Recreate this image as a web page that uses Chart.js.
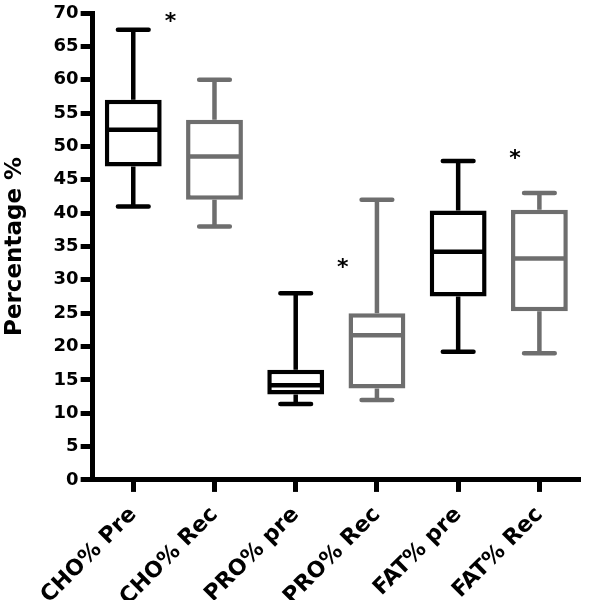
<!DOCTYPE html>
<html>
<head>
<meta charset="utf-8">
<script src="https://cdn.jsdelivr.net/npm/chart.js@4/dist/chart.umd.min.js"></script>
<style>
  body { margin: 0; background: #fff; }
</style>
</head>
<body>
<canvas id="boxChart" width="593" height="600"></canvas>
<script>
const labels = ['CHO% Pre', 'CHO% Rec', 'PRO% pre', 'PRO% Rec', 'FAT% pre', 'FAT% Rec'];
const mins    = [41.0, 38.0, 11.4, 12.0, 19.2, 19.0];
const q1s     = [47.0, 42.0, 12.8, 13.7, 27.5, 25.3];
const medians = [52.5, 48.5, 14.2, 21.7, 34.2, 33.2];
const q3s     = [57.0, 54.0, 16.5, 25.0, 40.4, 40.5];
const maxs    = [67.5, 60.0, 28.0, 42.0, 47.8, 43.0];
const colors  = ['#000000', '#6e6e6e', '#000000', '#6e6e6e', '#000000', '#6e6e6e'];
const yTicks  = [0, 5, 10, 15, 20, 25, 30, 35, 40, 45, 50, 55, 60, 65, 70];

// significance marks: sits between a category and the next one
const starAfter = [0, 2, 4];
const starShift = [0.46, 0.58, 0.70];
const starValue = [69.2, 32.4, 48.6];

const FONT = 'DejaVu Sans';
const LW = 4.5;

// whiskers (under the boxes), medians and stars (over them)
const boxWhiskers = {
  id: 'boxWhiskers',
  beforeDatasetsDraw(chart) {
    const ctx = chart.ctx;
    const y = chart.scales.y;
    const meta = chart.getDatasetMeta(0);
    ctx.save();
    ctx.lineWidth = LW;
    meta.data.forEach((bar, i) => {
      const cx = bar.x;
      const cap = bar.width * 0.27;
      ctx.strokeStyle = colors[i];
      ctx.lineCap = 'butt';
      ctx.beginPath();
      ctx.moveTo(cx, y.getPixelForValue(q3s[i]));
      ctx.lineTo(cx, y.getPixelForValue(maxs[i]));
      ctx.moveTo(cx, y.getPixelForValue(q1s[i]));
      ctx.lineTo(cx, y.getPixelForValue(mins[i]));
      ctx.stroke();
      ctx.lineCap = 'round';
      ctx.beginPath();
      ctx.moveTo(cx - cap, y.getPixelForValue(maxs[i]));
      ctx.lineTo(cx + cap, y.getPixelForValue(maxs[i]));
      ctx.moveTo(cx - cap, y.getPixelForValue(mins[i]));
      ctx.lineTo(cx + cap, y.getPixelForValue(mins[i]));
      ctx.stroke();
    });
    ctx.restore();
  },
  afterDatasetsDraw(chart) {
    const ctx = chart.ctx;
    const x = chart.scales.x;
    const y = chart.scales.y;
    const meta = chart.getDatasetMeta(0);
    ctx.save();
    ctx.lineWidth = LW;
    meta.data.forEach((bar, i) => {
      const py = y.getPixelForValue(medians[i]);
      ctx.strokeStyle = colors[i];
      ctx.beginPath();
      ctx.moveTo(bar.x - bar.width / 2 + 2, py);
      ctx.lineTo(bar.x + bar.width / 2 - 2, py);
      ctx.stroke();
    });
    ctx.fillStyle = '#000';
    ctx.font = 'bold 22px ' + FONT;
    ctx.textAlign = 'center';
    ctx.textBaseline = 'middle';
    starAfter.forEach((k, j) => {
      const x0 = x.getPixelForValue(k);
      const x1 = x.getPixelForValue(k + 1);
      ctx.fillText('*', x0 + (x1 - x0) * starShift[j], y.getPixelForValue(starValue[j]) + 4);
    });
    ctx.restore();
  }
};

new Chart(document.getElementById('boxChart'), {
  type: 'bar',
  data: {
    labels: labels,
    datasets: [{
      data: q1s.map((q, i) => [q, q3s[i]]),
      backgroundColor: '#ffffff',
      borderColor: colors,
      borderWidth: LW,
      borderSkipped: false,
      categoryPercentage: 1,
      barPercentage: 0.7
    }]
  },
  options: {
    responsive: false,
    animation: false,
    layout: { padding: { top: 13, right: 13, left: 0, bottom: 0 } },
    plugins: { legend: { display: false }, tooltip: { enabled: false } },
    scales: {
      x: {
        // labels run off the bottom edge a little, as in the original figure
        afterFit: axis => { axis.height -= 21; },
        grid: { display: true, offset: false, drawOnChartArea: false, tickLength: 12, tickWidth: 5, tickColor: '#000' },
        border: { color: '#000', width: 5 },
        ticks: {
          color: '#000',
          minRotation: 45,
          maxRotation: 45,
          padding: 10,
          font: { family: FONT, size: 22, weight: 'bold' }
        }
      },
      y: {
        min: 0,
        max: 70,
        afterBuildTicks: axis => { axis.ticks = yTicks.map(v => ({ value: v })); },
        grid: { display: true, drawOnChartArea: false, tickLength: 12, tickWidth: 5, tickColor: '#000' },
        border: { color: '#000', width: 5 },
        ticks: {
          color: '#000',
          padding: 2,
          font: { family: FONT, size: 18, weight: 'bold' }
        },
        title: {
          display: true,
          text: 'Percentage %',
          color: '#000',
          padding: { top: 1, bottom: 23 },
          font: { family: FONT, size: 23, weight: 'bold' }
        }
      }
    }
  },
  plugins: [boxWhiskers]
});
</script>
</body>
</html>
